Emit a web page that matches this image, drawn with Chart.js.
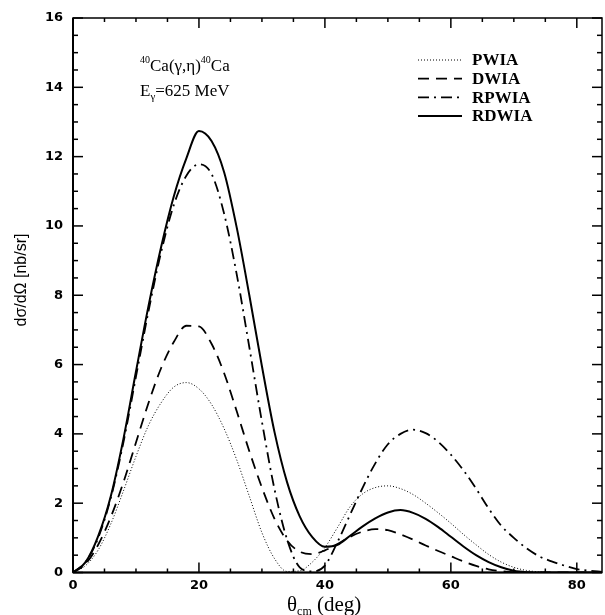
<!DOCTYPE html>
<html>
<head>
<meta charset="utf-8">
<script src="https://cdn.jsdelivr.net/npm/chart.js@4.4.0/dist/chart.umd.min.js"></script>
<style>
  html, body { margin: 0; padding: 0; background: #fff; }
</style>
</head>
<body>
<canvas id="chart" width="605" height="615"></canvas>
<script>
// ============================================================
// Data (theta_cm in degrees, nb/sr)
// ============================================================
const angles = [0, 2, 4, 6, 8, 10, 12, 14, 16, 18, 20, 22, 24, 26, 28, 30, 32, 34, 36, 38, 40,
  42, 44, 46, 48, 50, 52, 54, 56, 58, 60, 62, 64, 66, 68, 70, 72, 74, 76, 78, 80, 82, 84];

const pwia = [0, 0.2, 0.65, 1.4, 2.35, 3.35, 4.25, 4.9, 5.35, 5.48, 5.3, 4.85, 4.15, 3.25, 2.2, 1.15, 0.4,
  0.03, 0.05, 0.3, 0.72, 1.3, 1.9, 2.27, 2.45, 2.5, 2.42, 2.25, 2.0, 1.72, 1.42, 1.1, 0.8, 0.52, 0.3,
  0.15, 0.06, 0.02, 0, 0, 0, 0, 0];

const dwia = [0, 0.25, 0.8, 1.6, 2.6, 3.75, 4.9, 5.9, 6.65, 7.12, 7.1, 6.6, 5.75, 4.65, 3.5, 2.45, 1.55,
  0.92, 0.6, 0.53, 0.64, 0.82, 1.03, 1.18, 1.25, 1.22, 1.1, 0.95, 0.78, 0.62, 0.47, 0.32, 0.19, 0.09,
  0.04, 0.01, 0, 0, 0, 0, 0, 0, 0];

const rpwia = [0, 0.3, 1.0, 2.15, 3.75, 5.65, 7.55, 9.25, 10.6, 11.45, 11.78, 11.5, 10.35, 8.6, 6.5, 4.35,
  2.4, 0.95, 0.15, 0.03, 0.2, 0.88, 1.67, 2.45, 3.15, 3.7, 4.0, 4.12, 4.02, 3.77, 3.4, 2.95, 2.42, 1.85,
  1.35, 1.0, 0.7, 0.47, 0.32, 0.2, 0.1, 0.05, 0.02];

const rdwia = [0, 0.3, 1.05, 2.2, 3.85, 5.8, 7.7, 9.4, 10.85, 11.95, 12.74, 12.45, 11.55, 9.95, 8.0, 5.95,
  4.05, 2.6, 1.62, 1.02, 0.74, 0.8, 1.06, 1.33, 1.56, 1.73, 1.8, 1.72, 1.55, 1.31, 1.03, 0.75, 0.5, 0.3,
  0.15, 0.05, 0.01, 0, 0, 0, 0, 0, 0];

const seriesNames = ['PWIA', 'DWIA', 'RPWIA', 'RDWIA'];
const xTickLabels = [0, 20, 40, 60, 80];
const yTickLabels = [0, 2, 4, 6, 8, 10, 12, 14, 16];
const X_MAX = 84;
const Y_MAX = 16;

// ============================================================
// Line styles
// ============================================================
const styles = [
  { width: 1, dash: [1, 2] },            // dotted
  { width: 1.8, dash: [11, 7] },         // dashed
  { width: 1.8, dash: [11, 5, 2, 5] },   // dash-dot
  { width: 2, dash: [] },                // solid
];

const toPoints = ys => angles.map((a, i) => ({ x: a, y: ys[i] }));

const datasets = [pwia, dwia, rpwia, rdwia].map((ys, i) => ({
  label: seriesNames[i],
  data: toPoints(ys),
  borderColor: '#000',
  borderWidth: styles[i].width,
  borderDash: styles[i].dash,
  pointRadius: 0,
  cubicInterpolationMode: 'monotone',
  fill: false,
}));

// ============================================================
// Frame, inward ticks, legend and labels
// ============================================================
function seg(ctx, x1, y1, x2, y2) {
  ctx.beginPath();
  ctx.moveTo(x1, y1);
  ctx.lineTo(x2, y2);
  ctx.stroke();
}

const decorations = {
  id: 'decorations',
  afterDatasetsDraw(chart) {
    const { ctx, chartArea: a, scales: { x, y } } = chart;
    ctx.save();
    ctx.strokeStyle = '#000';
    ctx.fillStyle = '#000';
    ctx.setLineDash([]);

    // frame
    ctx.lineWidth = 1.5;
    ctx.strokeRect(a.left, a.top, a.right - a.left, a.bottom - a.top);
    ctx.lineWidth = 2;
    seg(ctx, a.left, a.top, a.left, a.bottom);
    seg(ctx, a.left, a.bottom, a.right, a.bottom);

    // x ticks, every 5 deg, majors every 20
    ctx.lineWidth = 1.5;
    for (let v = 0; v <= X_MAX; v += 5) {
      const px = x.getPixelForValue(v);
      const len = v % 20 === 0 ? 10 : 4;
      seg(ctx, px, a.bottom, px, a.bottom - len);
      seg(ctx, px, a.top, px, a.top + len);
    }
    // y ticks, every 0.5, majors every 2
    for (let v = 0; v <= Y_MAX; v += 0.5) {
      const py = y.getPixelForValue(v);
      const len = v % 2 === 0 ? 10 : 5;
      seg(ctx, a.left, py, a.left + len, py);
      seg(ctx, a.right, py, a.right - len, py);
    }

    // legend
    const lx1 = 418, lx2 = 462, ly0 = 60, dy = 18.7;
    datasets.forEach((ds, i) => {
      const cy = ly0 + i * dy;
      ctx.lineWidth = ds.borderWidth;
      ctx.setLineDash(ds.borderDash);
      seg(ctx, lx1, cy, lx2, cy);
      ctx.setLineDash([]);
      ctx.font = 'bold 17px "Liberation Serif"';
      ctx.textAlign = 'left';
      ctx.textBaseline = 'middle';
      ctx.fillText(ds.label, 472, cy + 1);
    });

    // reaction label
    ctx.textBaseline = 'alphabetic';
    let tx = 140;
    const big = '17px "Liberation Serif"', small = '10px "Liberation Serif"';
    const put = (s, font, dyy) => {
      ctx.font = font;
      ctx.fillText(s, tx, dyy);
      tx += ctx.measureText(s).width;
    };
    put('40', small, 63);
    put('Ca(\u03b3,\u03b7)', big, 71);
    put('40', small, 63);
    put('Ca', big, 71);
    tx = 140;
    put('E', big, 96);
    put('\u03b3', '11px "Liberation Serif"', 100);
    put('=625 MeV', big, 96);

    // x axis title with subscript
    tx = 287;
    put('\u03b8', '21px "Liberation Serif"', 611);
    put('cm', '12px "Liberation Serif"', 615);
    put(' (deg)', '21px "Liberation Serif"', 611);

    // y axis title
    ctx.save();
    ctx.translate(26, 280);
    ctx.rotate(-Math.PI / 2);
    ctx.font = '16px "Liberation Sans"';
    ctx.textAlign = 'center';
    ctx.fillText('d\u03c3/d\u03a9 [nb/sr]', 0, 0);
    ctx.restore();

    ctx.restore();
  },
};

// ============================================================
// Chart
// ============================================================
const tickFont = { family: 'DejaVu Sans', weight: 'bold', size: 13 };

new Chart(document.getElementById('chart').getContext('2d'), {
  type: 'line',
  data: { datasets },
  options: {
    responsive: false,
    animation: false,
    layout: { padding: { top: 18, right: 3, left: 0, bottom: 0 } },
    plugins: {
      legend: { display: false },
      tooltip: { enabled: false },
    },
    scales: {
      x: {
        type: 'linear',
        min: 0,
        max: X_MAX,
        afterBuildTicks: s => { s.ticks = xTickLabels.map(v => ({ value: v })); },
        afterFit: s => { s.height = 42.5; },
        grid: { display: false, drawTicks: false },
        border: { display: false },
        ticks: { color: '#000', font: tickFont, padding: 5, maxRotation: 0 },
      },
      y: {
        min: 0,
        max: Y_MAX,
        afterBuildTicks: s => { s.ticks = yTickLabels.map(v => ({ value: v })); },
        afterFit: s => { s.width = 73; },
        grid: { display: false, drawTicks: false },
        border: { display: false },
        ticks: { color: '#000', font: tickFont, padding: 10 },
      },
    },
  },
  plugins: [decorations],
});
</script>
</body>
</html>
